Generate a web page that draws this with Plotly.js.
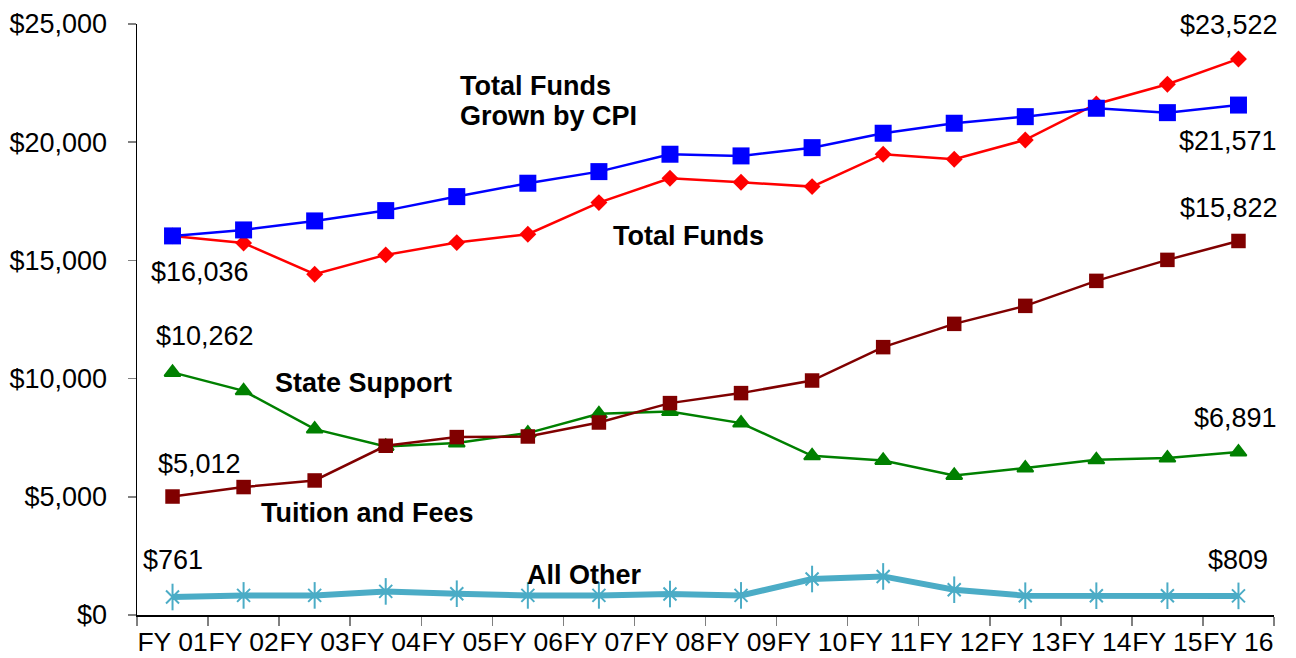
<!DOCTYPE html>
<html>
<head>
<meta charset="utf-8">
<script src="https://cdn.plot.ly/plotly-3.0.1.min.js"></script>
<style>html,body{margin:0;padding:0;background:#fff;}#chart{width:1296px;height:658px;}</style>
</head>
<body>
<div id="chart"></div>
<script>
const categories = ['FY 01','FY 02','FY 03','FY 04','FY 05','FY 06','FY 07','FY 08','FY 09','FY 10','FY 11','FY 12','FY 13','FY 14','FY 15','FY 16'];
const totalFundsCPI = [16036,16289,16670,17106,17699,18265,18756,19491,19420,19770,20379,20802,21081,21436,21250,21571];
const totalFunds    = [16036,15733,14417,15233,15754,16109,17445,18476,18307,18121,19491,19280,20096,21618,22450,23522];
const tuitionFees   = [5012,5412,5691,7158,7526,7551,8143,8963,9386,9919,11331,12316,13077,14134,15022,15822];
const stateSupport  = [10262,9484,7864,7130,7272,7695,8511,8608,8118,6735,6537,5902,6215,6566,6638,6891];
const allOther      = [761,829,829,998,900,829,829,888,829,1522,1632,1070,816,816,816,809];
const yTickVals     = [0,5000,10000,15000,20000,25000];

const FONT = 'Liberation Sans, Arial, sans-serif';
const L = 137, R = 22, T = 24, B = 42.7;
const PW = 1296 - L - R, PH = 658 - T - B;
const px = p => (p - L) / PW;
const py = p => (658 - B - p) / PH;
const money = v => '$' + v.toLocaleString('en-US');
const CYAN = '#4BACC6';

const traces = [
  {x: categories, y: allOther, mode: 'lines+markers', line: {color: CYAN, width: 6},
   marker: {symbol: 'x-thin-open', size: 13, color: CYAN, line: {color: CYAN, width: 2}}},
  {x: categories, y: allOther, mode: 'markers',
   marker: {symbol: 'line-ns-open', size: 19, color: CYAN, line: {color: CYAN, width: 2}}},
  {x: categories, y: stateSupport, mode: 'lines+markers', line: {color: '#008000', width: 2.5},
   marker: {symbol: 'triangle-up', size: 14, color: '#008000', line: {color: '#008000', width: 2}}},
  {x: categories, y: tuitionFees, mode: 'lines+markers', line: {color: '#800000', width: 2.5},
   marker: {symbol: 'square', size: 14.5, color: '#800000'}},
  {x: categories, y: totalFunds, mode: 'lines+markers', line: {color: '#FF0000', width: 2.5},
   marker: {symbol: 'diamond', size: 13, color: '#FF0000'}},
  {x: categories, y: totalFundsCPI, mode: 'lines+markers', line: {color: '#0000FF', width: 2.5},
   marker: {symbol: 'square', size: 17, color: '#0000FF'}}
];
traces.forEach(t => { t.hoverinfo = 'skip'; t.cliponaxis = false; });

const n = categories.length - 1;
const valueLabels = [
  [0, totalFundsCPI[0], 27, -36],
  [0, stateSupport[0], 32, 36],
  [0, tuitionFees[0], 27, 33],
  [0, allOther[0], 0, 37],
  [n, totalFunds[n], -9, 34],
  [n, totalFundsCPI[n], -10, -36],
  [n, tuitionFees[n], -9, 33],
  [n, stateSupport[n], -3, 34],
  [n, allOther[n], 0, 36]
].map(([i, v, dx, dy]) => ({
  x: i, y: v, xref: 'x', yref: 'y', text: money(v), showarrow: false,
  xanchor: 'center', yanchor: 'middle', xshift: dx, yshift: dy,
  font: {family: FONT, size: 27, color: '#000'}
}));

const seriesLabels = [
  ['Total Funds', 458, 86],
  ['Grown by CPI', 458, 116],
  ['Total Funds', 611, 236],
  ['State Support', 273, 383],
  ['Tuition and Fees', 259, 513],
  ['All Other', 525, 575]
].map(([t, x, y]) => ({
  x: px(x), y: py(y), xref: 'paper', yref: 'paper', text: '<b>' + t + '</b>', showarrow: false,
  xanchor: 'left', yanchor: 'middle', font: {family: FONT, size: 27, color: '#000'}
}));

const layout = {
  width: 1296, height: 658,
  margin: {l: L, r: R, t: T, b: B, pad: 0},
  paper_bgcolor: '#fff', plot_bgcolor: '#fff',
  showlegend: false,
  xaxis: {
    type: 'category', range: [-0.5, 15.5], tickson: 'boundaries', tickmode: 'linear', tick0: 0, dtick: 1,
    ticks: 'outside', ticklen: 9, tickwidth: 1.5, tickcolor: '#808080', ticklabelstandoff: 3,
    showline: true, linecolor: '#000', linewidth: 1.5, showgrid: false, zeroline: false,
    tickangle: 0, tickfont: {family: FONT, size: 26.5, color: '#000'}, fixedrange: true
  },
  yaxis: {
    range: [0, 25000], tickmode: 'array', tickvals: yTickVals,
    ticktext: yTickVals.map(money),
    ticks: 'outside', ticklen: 8, tickwidth: 1.5, tickcolor: '#808080', ticklabelstandoff: 15,
    showline: true, linecolor: '#000', linewidth: 1.5, showgrid: false, zeroline: false,
    tickfont: {family: FONT, size: 27, color: '#000'}, fixedrange: true
  },
  annotations: valueLabels.concat(seriesLabels)
};

Plotly.newPlot('chart', traces, layout, {displayModeBar: false, staticPlot: true});
</script>
</body>
</html>
